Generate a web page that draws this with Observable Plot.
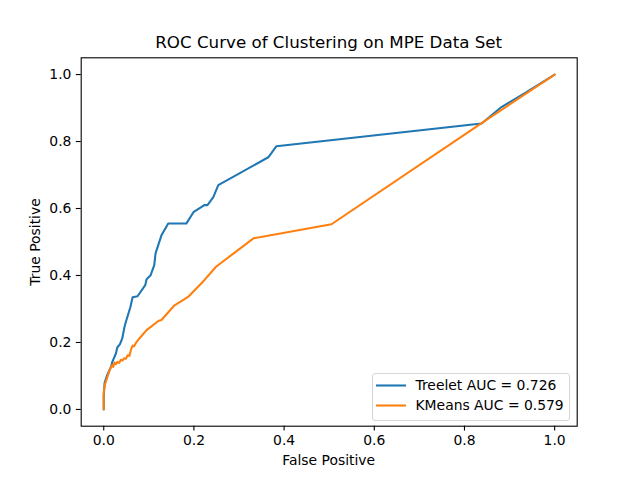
<!DOCTYPE html>
<html>
<head>
<meta charset="utf-8">
<script src="https://cdn.jsdelivr.net/npm/d3@7"></script>
<script src="https://cdn.jsdelivr.net/npm/@observablehq/plot@0.6"></script>
<style>
  html, body { margin: 0; padding: 0; background: white; }
  #wrap { position: relative; width: 640px; height: 478px; font-family: "DejaVu Sans", sans-serif; color: black; overflow: hidden; }
  #title { position: absolute; left: 80.7px; width: 496px; top: 32px; text-align: center; font-size: 16.7px; line-height: 20px; }
  #xlabel { position: absolute; left: 80.7px; width: 496px; top: 452px; text-align: center; font-size: 13.9px; line-height: 17px; }
  #ylabel { position: absolute; left: 35px; top: 241.5px; font-size: 13.9px; line-height: 17px; white-space: nowrap; transform: translate(-50%, -50%) rotate(-90deg); }
  #legend { position: absolute; left: 371.5px; top: 372.5px; width: 196px; height: 46.5px; border: 1px solid #d6d6d6; border-radius: 3px; background: rgba(255,255,255,0.8); font-size: 13.9px; }
  .row { position: absolute; left: 0; height: 17px; line-height: 17px; white-space: nowrap; }
  .row svg { position: absolute; left: 3px; top: 0; }
  .row span { position: absolute; left: 43px; top: 0; }
</style>
</head>
<body>
<div id="wrap">
  <div id="chart"></div>
  <div id="title"></div>
  <div id="xlabel"></div>
  <div id="ylabel"></div>
  <div id="legend"></div>
</div>
<script>
const titleText = "ROC Curve of Clustering on MPE Data Set";
const xLabelText = "False Positive";
const yLabelText = "True Positive";
const seriesNames = ["Treelet AUC = 0.726", "KMeans AUC = 0.579"];
const seriesColors = ["#1f77b4", "#ff7f0e"];
const xTicks = [0, 0.2, 0.4, 0.6, 0.8, 1.0];
const yTicks = [0, 0.2, 0.4, 0.6, 0.8, 1.0];

const treeletFPR = [0, 0, 0.002, 0.008, 0.016, 0.019, 0.027, 0.030, 0.036, 0.041, 0.046, 0.049, 0.059, 0.064, 0.075, 0.092, 0.095, 0.104, 0.112, 0.115, 0.128, 0.143, 0.183, 0.199, 0.223, 0.230, 0.243, 0.254, 0.365, 0.383, 0.838, 0.882, 0.933, 1.0];
const treeletTPR = [0, 0.04, 0.08, 0.104, 0.127, 0.142, 0.167, 0.185, 0.195, 0.212, 0.246, 0.261, 0.305, 0.335, 0.338, 0.371, 0.389, 0.401, 0.431, 0.467, 0.520, 0.555, 0.555, 0.589, 0.610, 0.610, 0.634, 0.670, 0.753, 0.786, 0.854, 0.903, 0.944, 1.0];

const kmeansFPR = [0, 0, 0.002, 0.007, 0.012, 0.015, 0.019, 0.021, 0.024, 0.027, 0.030, 0.034, 0.038, 0.042, 0.045, 0.049, 0.053, 0.057, 0.060, 0.064, 0.067, 0.071, 0.079, 0.095, 0.121, 0.128, 0.157, 0.187, 0.223, 0.249, 0.332, 0.505, 0.838, 1.0];
const kmeansTPR = [0, 0.05, 0.072, 0.093, 0.113, 0.123, 0.133, 0.127, 0.140, 0.135, 0.142, 0.139, 0.148, 0.146, 0.153, 0.151, 0.162, 0.160, 0.176, 0.191, 0.188, 0.198, 0.212, 0.237, 0.264, 0.267, 0.311, 0.336, 0.386, 0.426, 0.511, 0.553, 0.855, 1.0];

const treelet = treeletFPR.map((x, i) => ({x, y: treeletTPR[i]}));
const kmeans = kmeansFPR.map((x, i) => ({x, y: kmeansTPR[i]}));

const chart = Plot.plot({
  width: 640,
  height: 478,
  marginLeft: 80.7,
  marginRight: 63.3,
  marginTop: 57.3,
  marginBottom: 52.3,
  style: {fontFamily: "DejaVu Sans, sans-serif", fontSize: "13.9px", color: "black", background: "white", overflow: "visible"},
  x: {domain: [-0.05, 1.05]},
  y: {domain: [-0.05, 1.05]},
  marks: [
    Plot.line(treelet, {x: "x", y: "y", stroke: seriesColors[0], strokeWidth: 2.08, strokeLinejoin: "round"}),
    Plot.line(kmeans, {x: "x", y: "y", stroke: seriesColors[1], strokeWidth: 2.08, strokeLinejoin: "round"}),
    Plot.frame({stroke: "black", strokeWidth: 1.1}),
    Plot.axisX({ticks: xTicks, tickFormat: d => d.toFixed(1), tickSize: 4.9, tickPadding: 4.4, strokeWidth: 1.1, label: null, fontSize: 13.9}),
    Plot.axisY({ticks: yTicks, tickFormat: d => d.toFixed(1), tickSize: 4.9, tickPadding: 4.9, strokeWidth: 1.1, label: null, fontSize: 13.9})
  ]
});
document.getElementById("chart").appendChild(chart);

document.getElementById("title").textContent = titleText;
document.getElementById("xlabel").textContent = xLabelText;
document.getElementById("ylabel").textContent = yLabelText;

const legend = document.getElementById("legend");
seriesNames.forEach((name, i) => {
  const row = document.createElement("div");
  row.className = "row";
  row.style.top = (3 + i * 20) + "px";
  row.style.width = "100%";
  row.innerHTML = `<svg width="32" height="17"><line x1="0" x2="30" y1="8.5" y2="8.5" stroke="${seriesColors[i]}" stroke-width="2.08"/></svg><span></span>`;
  row.querySelector("span").textContent = name;
  legend.appendChild(row);
});
</script>
</body>
</html>
